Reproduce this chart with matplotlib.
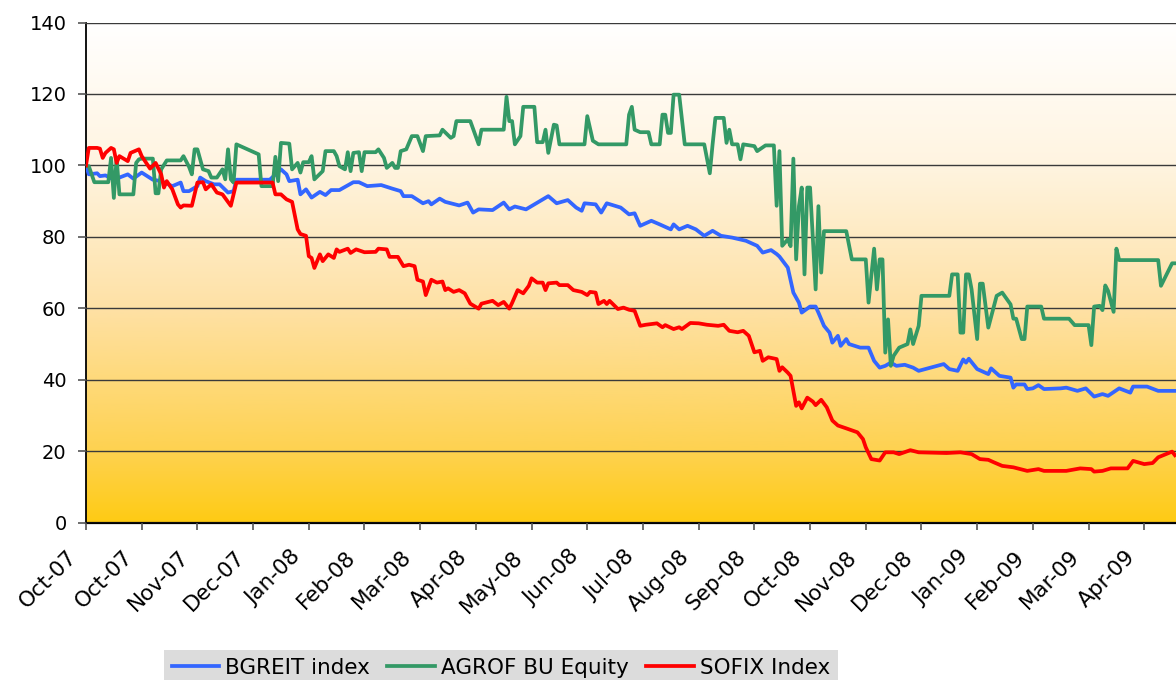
import numpy as np
import matplotlib; matplotlib.use("Agg")
import matplotlib.pyplot as plt
from matplotlib.colors import LinearSegmentedColormap
from matplotlib.transforms import ScaledTranslation

# trading-day index -> value (rebased to 100)
BGREIT_DAY = [0,1,4,5,7,10,15,17,20,22,24,27,31,34,35,37,40,41,43,46,48,51,53,54,66,70,72,73,76,77,79,81,84,86,88,91,
              96,98,101,106,110,113,114,117,121,123,124,127,129,134,137,139,141,146,150,152,154,158,161,166,169,173,176,
              178,179,183,185,187,192,195,197,199,203,206,210,211,213,216,219,222,225,228,232,237,241,243,246,248,249,252,
              254,256,257,260,262,263,265,267,268,270,271,273,274,278,281,283,285,287,289,291,294,297,299,308,310,313,315,
              316,317,320,324,325,328,332,333,334,337,338,340,342,344,350,352,356,359,362,365,367,371,375,376,381,385,391]
BGREIT_VAL = [100,97.5,97.8,97,97.2,96,97.5,96.3,98,97,96,95.6,94.2,95.2,92.8,92.8,94.2,96.6,95.6,94.7,94.7,92.4,92.8,96,96,
              98.9,97.5,95.6,96,91.9,93.3,91,92.6,91.7,93.1,93.1,95.3,95.3,94.2,94.5,93.5,92.8,91.4,91.4,89.4,90,89.1,90.7,
              89.8,88.8,89.6,86.8,87.7,87.5,89.6,87.7,88.5,87.7,89.1,91.4,89.4,90.3,88.2,87.3,89.4,89.1,86.8,89.4,88.2,86.3,
              86.6,83.1,84.5,83.5,82.1,83.5,82.1,83.1,82.1,80.3,81.7,80.3,79.8,78.9,77.5,75.6,76.3,75.2,74.5,71.4,64.4,61.6,
              58.8,60.5,60.5,58.8,55.1,53.2,50.4,52.3,49.5,51.4,50,49,49,45.3,43.4,43.9,44.8,43.9,44.2,43.4,42.5,44.4,43,42.5,
              45.7,44.8,45.9,43,41.6,43.2,41.1,40.6,37.8,38.7,38.7,37.4,37.6,38.5,37.4,37.6,37.8,36.9,37.6,35.3,36,35.5,37.6,
              36.4,38.1,38.1,36.9,36.9]

AGROF_DAY = [0,1,3,8,9,10,11,12,17,18,19,20,24,25,26,27,29,34,35,37,38,39,40,42,44,45,47,49,50,51,52,53,54,62,63,67,68,69,
             70,73,74,76,77,78,80,81,82,85,86,89,90,91,93,94,95,96,98,99,100,104,105,107,108,110,111,112,113,115,117,119,
             121,122,127,128,131,132,133,138,141,142,150,151,152,153,154,156,157,161,162,164,165,166,168,169,170,179,180,
             182,184,194,195,196,197,199,202,203,206,207,208,209,210,211,213,215,222,224,225,226,229,230,231,232,234,235,
             236,240,241,244,247,248,249,250,252,253,254,255,256,257,258,259,260,262,263,264,265,273,275,280,281,283,284,
             285,286,287,288,289,290,292,295,296,297,299,300,310,311,313,314,315,316,317,318,320,321,322,324,327,329,332,
             333,334,336,337,338,343,344,353,355,360,361,362,364,365,366,367,369,370,371,385,386,390,391]
AGROF_VAL = [99.8,99.8,95.3,95.3,102.1,90.9,102.1,91.9,91.9,100.7,101.7,101.9,101.9,92.2,92.2,98.9,101.4,101.4,102.6,99.6,
             97.5,104.5,104.5,98.9,98.4,96.6,96.6,98.9,96.1,104.5,96.1,95.2,105.9,103.1,94.2,94.2,102.4,95.6,106.3,106.1,
             98.9,100.7,98,100.9,100.9,102.6,96.1,98.4,104,104,102.6,99.8,98.9,103.7,98.4,103.5,103.7,98.4,103.7,103.7,
             104.5,102.1,99.3,100.7,99.3,99.3,104,104.5,108.2,108.2,104,108.2,108.4,110,107.7,108.2,112.4,112.4,105.9,110,
             110,119.2,112.4,112.4,105.9,108.2,116.4,116.4,106.5,106.5,110,103.5,111.4,111.2,105.9,105.9,113.8,106.9,105.9,
             105.9,114.2,116.4,110,109.3,109.3,105.9,105.9,114.2,114.2,109.1,109.1,119.8,119.8,105.9,105.9,97.8,105.9,113.3,
             113.3,106.3,110,105.9,105.9,101.7,105.9,105.4,104,105.6,105.6,88.7,104,77.5,79.3,77.4,101.9,73.7,88.6,93.8,
             69.5,93.8,93.8,65.3,88.6,70,81.6,81.6,73.7,73.7,61.6,76.7,65.3,73.7,73.7,47.6,56.9,43.9,46.7,49,50,54.1,50,
             55.1,63.5,63.5,69.5,69.5,53.2,53.2,69.5,69.5,65.3,51.4,66.9,66.9,54.6,63.5,64.4,61.1,57.1,57.1,51.4,51.4,60.5,
             60.5,57.1,57.1,55.3,55.3,49.7,60.5,60.7,59.5,66.4,64.9,59,76.7,73.5,73.5,66.3,72.6,72.6]

SOFIX_DAY = [0,1,4,5,6,7,9,10,11,12,15,16,19,20,23,25,27,28,29,31,33,34,35,38,40,42,43,45,47,49,52,54,67,68,70,72,74,76,
             77,79,80,81,82,84,85,87,89,90,91,94,95,97,100,104,105,108,109,112,114,116,118,119,121,122,124,126,128,129,
             130,132,134,136,138,141,142,146,148,150,152,153,155,157,159,160,162,164,165,166,169,170,173,175,178,180,181,
             183,184,186,187,188,191,193,195,197,199,201,205,207,208,211,213,214,217,220,223,227,229,231,234,236,238,240,
             242,243,245,248,249,250,252,253,255,256,257,259,261,262,264,266,268,270,273,277,279,280,282,285,287,290,292,
             296,299,309,314,318,321,324,326,329,333,338,342,344,352,357,361,362,365,368,374,376,380,383,385,390,391]
SOFIX_VAL = [100,104.9,104.9,104.7,102.1,103.5,104.9,104.5,100.7,102.6,101.2,103.5,104.5,102.6,99.1,100.7,97.5,93.8,95.6,
             93.3,89.1,88.2,88.8,88.7,95.2,95.3,93.3,94.7,92.4,91.9,88.7,95.2,95.2,91.9,91.9,90.5,89.8,82.1,80.8,80.3,74.6,
             74.1,71.3,75.1,73.2,75.1,74.1,76.5,75.8,76.7,75.5,76.5,75.7,75.8,76.7,76.5,74.4,74.4,71.8,72.2,71.8,68,67.5,
             63.7,68,67.2,67.5,65.1,65.6,64.6,65.1,64.2,61.3,59.9,61.3,62.1,60.9,61.8,59.9,61.5,65.1,64.2,66.3,68.4,67.2,
             67.2,65.1,67,67.2,66.5,66.5,65.1,64.6,63.7,64.6,64.4,61.2,62.1,61.2,62.1,59.8,60.2,59.6,59.3,55.1,55.4,55.8,
             54.7,55.3,54.2,54.7,54.2,55.9,55.8,55.4,55.1,55.4,53.7,53.3,53.7,52.3,47.7,48.1,45.3,46.3,45.8,42.5,43.5,42,
             41.1,32.7,33.7,32,35,33.9,32.9,34.4,32.3,28.6,27.2,26.4,25.3,23.4,21.1,17.8,17.4,19.7,19.7,19.2,20.3,19.7,19.5,
             19.7,19.2,17.8,17.6,16.9,15.9,15.5,14.5,15,14.5,14.5,15.2,15,14.3,14.5,15.2,15.2,17.3,16.4,16.7,18.3,19.9,18.9]

MONTHS = ["Oct-07","Oct-07","Nov-07","Dec-07","Jan-08","Feb-08","Mar-08","Apr-08","May-08","Jun-08","Jul-08",
          "Aug-08","Sep-08","Oct-08","Nov-08","Dec-08","Jan-09","Feb-09","Mar-09","Apr-09"]
TICK_STEP = 20          # trading days between category labels
X_MAX = 391.4

fig = plt.figure(figsize=(11.76, 6.80), dpi=100)
ax = fig.add_axes([86/1176, (680-522.7)/680, 1090/1176, 500.2/680])

# background gradient: white at top -> gold at bottom
bg = LinearSegmentedColormap.from_list("bg", [(0.0, "#FFCB14"), (20/140, "#FED250"), (60/140, "#FEE1A5"),
                                              (100/140, "#FFF4E0"), (1.0, "#FFFFFF")])
ax.imshow(np.linspace(0, 1, 256).reshape(-1, 1), cmap=bg, origin="lower", aspect="auto",
          extent=(0, X_MAX, 0, 140), zorder=0)

ax.plot(BGREIT_DAY, BGREIT_VAL, color="#3366FF", lw=2.7, label="BGREIT index", zorder=3)
ax.plot(AGROF_DAY, AGROF_VAL, color="#339966", lw=2.7, label="AGROF BU Equity", zorder=3)
ax.plot(SOFIX_DAY, SOFIX_VAL, color="#FF0000", lw=2.7, label="SOFIX Index", zorder=3)

ax.set_xlim(0, X_MAX); ax.set_ylim(0, 140)
ax.set_yticks(range(0, 141, 20))
ax.yaxis.grid(True, color="#3a3a3a", lw=1.0); ax.set_axisbelow(False)
for gl in ax.get_ygridlines(): gl.set_zorder(1)
ax.tick_params(axis="y", labelsize=14, length=6, width=1.2, pad=8, color="#555555")
ax.tick_params(axis="x", length=5, width=1.2, color="#555555")
ax.set_xticks([i * TICK_STEP for i in range(len(MONTHS))])
ax.set_xticklabels(MONTHS, rotation=45, ha="right", va="top", rotation_mode="anchor", fontsize=15.5)
# tick_params resets label transforms, so shift the labels afterwards
for lab in ax.get_xticklabels():
    lab.set_transform(lab.get_transform() + ScaledTranslation(-0.19, -0.12, fig.dpi_scale_trans))
for s in ["top", "right"]: ax.spines[s].set_visible(False)
ax.spines["left"].set_linewidth(1.3); ax.spines["bottom"].set_linewidth(1.6)

leg = fig.legend(loc="upper left", bbox_to_anchor=(164/1176, 1 - 650/680), ncol=3, fontsize=15.5,
                 frameon=True, fancybox=False, edgecolor="none", facecolor="#DCDCDC", framealpha=1,
                 handlelength=2.2, handletextpad=0.3, columnspacing=0.8, borderpad=0.35, borderaxespad=0)
for h in leg.get_lines(): h.set_linewidth(2.7)

fig.savefig("out.png", dpi=100)
